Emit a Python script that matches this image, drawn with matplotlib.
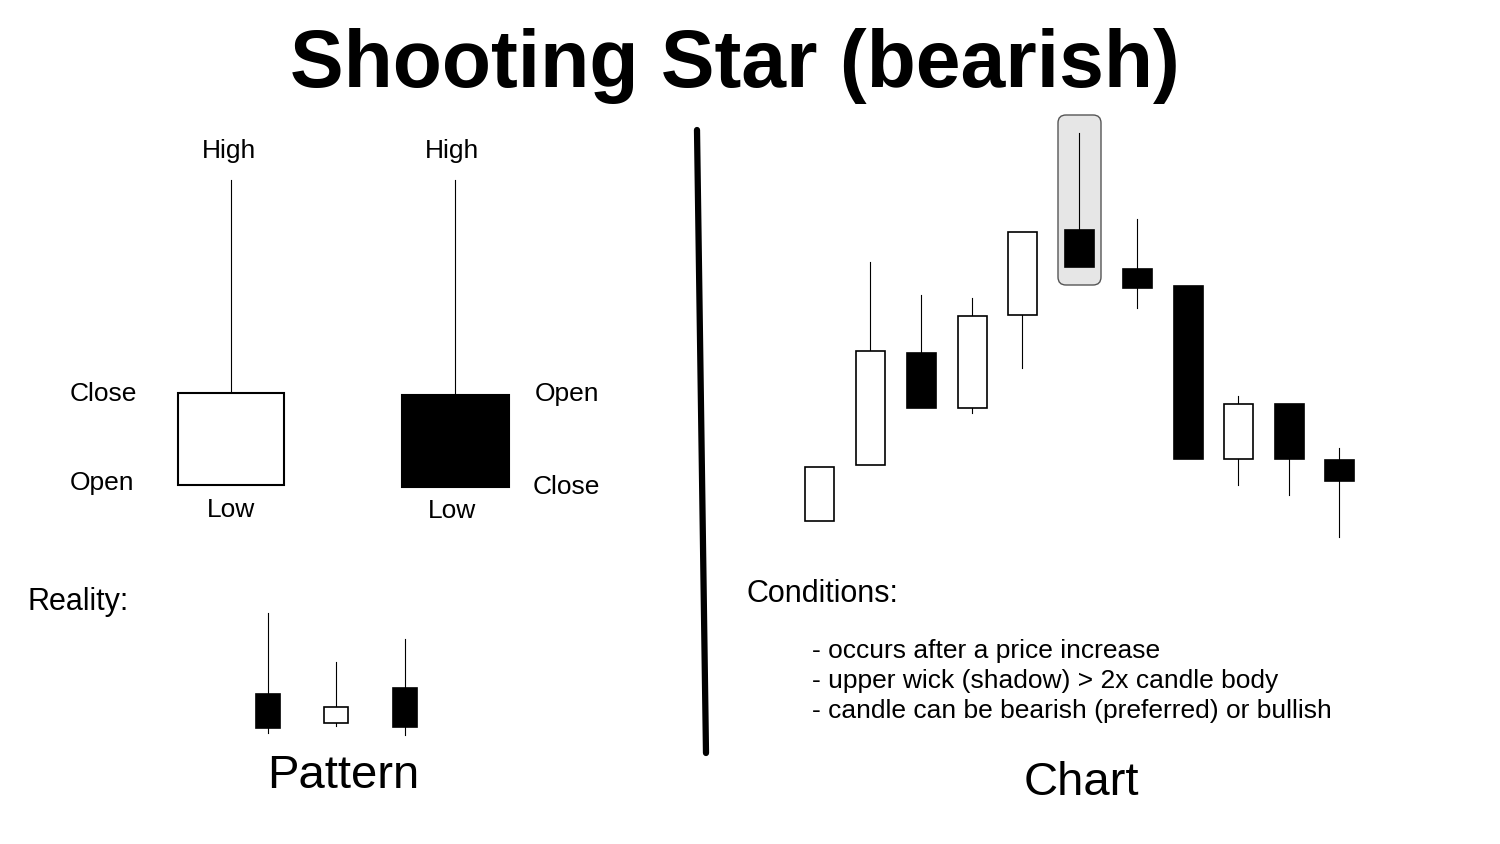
import matplotlib
matplotlib.use("Agg")
import matplotlib.pyplot as plt
from matplotlib.patches import Rectangle, FancyBboxPatch

plt.rcParams["font.family"] = ["Liberation Sans", "DejaVu Sans"]

# chart candles (canvas units, y grows downward)
chart_x = [819, 870, 921, 972, 1022, 1079, 1137, 1188, 1238, 1289, 1339]
chart_open = [521, 465, 353, 408, 315, 230, 269, 286, 459, 404, 460]
chart_close = [467, 351, 408, 316, 232, 267, 288, 459, 404, 459, 481]
chart_high = [467, 262, 295, 298, 232, 133, 219, 286, 396, 404, 448]
chart_low = [521, 465, 408, 413, 368, 267, 308, 459, 485, 495, 537]

# "Reality" candles
real_x = [268, 336, 405]
real_open = [694, 723, 688]
real_close = [728, 707, 727]
real_high = [613, 662, 639]
real_low = [733, 726, 735]

fig = plt.figure(figsize=(15, 8.44), dpi=100)
ax = fig.add_axes([0, 0, 1, 1])
ax.set_xlim(0, 1500); ax.set_ylim(844, 0); ax.axis("off")


def candle(x, o, c, h, l, w, lw=1.2):
    top, bot = min(o, c), max(o, c)
    ax.plot([x, x], [h, top], color="black", lw=0.8, zorder=2)
    ax.plot([x, x], [bot, l], color="black", lw=0.8, zorder=2)
    fc = "black" if c > o else "white"
    ax.add_patch(Rectangle((x - w / 2, top), w, bot - top, fc=fc, ec="black", lw=lw, zorder=3))


# highlight box
ax.add_patch(FancyBboxPatch((1058, 115), 43, 170, boxstyle="round,pad=0,rounding_size=8",
                            fc="#e6e6e6", ec="#555555", lw=1, zorder=1))
for i in range(len(chart_x)):
    candle(chart_x[i], chart_open[i], chart_close[i], chart_high[i], chart_low[i], 29)
for i in range(len(real_x)):
    candle(real_x[i], real_open[i], real_close[i], real_high[i], real_low[i], 24)

# big pattern candles
candle(231, 485, 393, 180, 485, 106, lw=1.5)
candle(455, 395, 487, 180, 487, 107, lw=1.5)

ax.plot([697, 706], [130, 753], color="black", lw=4.5, solid_capstyle="round")

ax.text(735, 66, "Shooting Star (bearish)", fontsize=58, fontweight="bold", ha="center", va="center")
fs = 19
for x, y, t in [(229, 151, "High"), (452, 151, "High"), (231, 510, "Low"), (452, 511, "Low")]:
    ax.text(x, y, t, fontsize=fs, ha="center", va="center")
ax.text(70, 394, "Close", fontsize=fs, va="center")
ax.text(70, 483, "Open", fontsize=fs, va="center")
ax.text(535, 394, "Open", fontsize=fs, va="center")
ax.text(533, 487, "Close", fontsize=fs, va="center")
ax.text(28, 602, "Reality:", fontsize=22, va="center")
ax.text(343, 776, "Pattern", fontsize=34, ha="center", va="center")
ax.text(1081, 783, "Chart", fontsize=34, ha="center", va="center")
ax.text(747, 594, "Conditions:", fontsize=22, va="center")
for y, t in [(651, "- occurs after a price increase"),
             (681, "- upper wick (shadow) > 2x candle body"),
             (711, "- candle can be bearish (preferred) or bullish")]:
    ax.text(812, y, t, fontsize=19, va="center")

fig.savefig("out.png")
